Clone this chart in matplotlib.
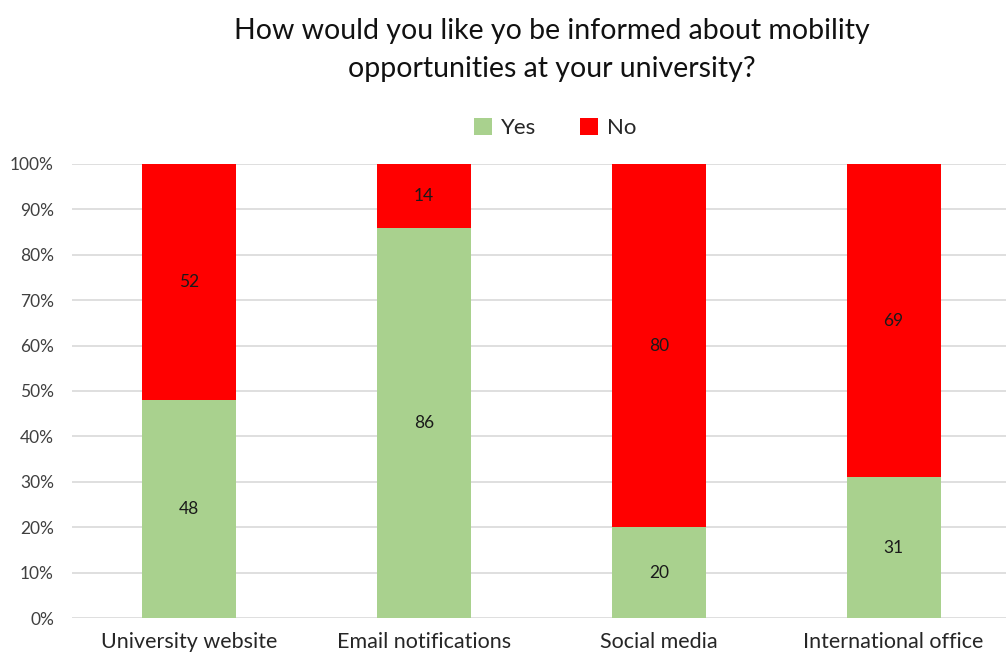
import numpy as np
import matplotlib.pyplot as plt

categories = ["University website", "Email notifications", "Social media", "International office"]
yes = [48, 86, 20, 31]
no = [52, 14, 80, 69]

plt.rcParams['font.family'] = ['Lato', 'DejaVu Sans']

fig = plt.figure(figsize=(10.06, 6.61), dpi=100)
ax = fig.add_axes([0.0716, 0.065, 0.9334, 0.687])

x = np.arange(len(categories))
w = 0.4
green = '#A9D18E'
red = '#FF0000'

ax.bar(x, yes, w, color=green, label='Yes', zorder=2)
ax.bar(x, no, w, bottom=yes, color=red, label='No', zorder=2)

for i in range(len(categories)):
    ax.text(x[i], yes[i] / 2, str(yes[i]), ha='center', va='center', fontsize=12.5, color='#1a1a1a')
    ax.text(x[i], yes[i] + no[i] / 2, str(no[i]), ha='center', va='center', fontsize=12.5, color='#1a1a1a')

ax.set_xlim(-0.5, len(categories) - 0.5)
ax.set_ylim(0, 100)
ax.set_yticks(np.arange(0, 101, 10))
ax.set_yticklabels([f"{v}%" for v in range(0, 101, 10)], fontsize=12.5, color='#404040')
ax.set_xticks(x)
ax.set_xticklabels(categories, fontsize=15.5, color='#262626')
ax.tick_params(axis='both', length=0)
ax.tick_params(axis='x', pad=10)
ax.tick_params(axis='y', pad=13)
ax.yaxis.grid(True, color='#D9D9D9', linewidth=1.2, zorder=0)
for s in ax.spines.values():
    s.set_visible(False)

fig.text(0.549, 0.953, "How would you like yo be informed about mobility",
         ha='center', va='center', fontsize=20.5, color='#111111')
fig.text(0.549, 0.895, "opportunities at your university?",
         ha='center', va='center', fontsize=20.5, color='#111111')

fig.legend(loc='center', bbox_to_anchor=(0.552, 0.806), ncol=2, frameon=False,
           fontsize=16, handlelength=0.8, handleheight=0.8, columnspacing=2.0,
           handletextpad=0.4, labelcolor='#262626')

fig.savefig('out.png', dpi=100)
